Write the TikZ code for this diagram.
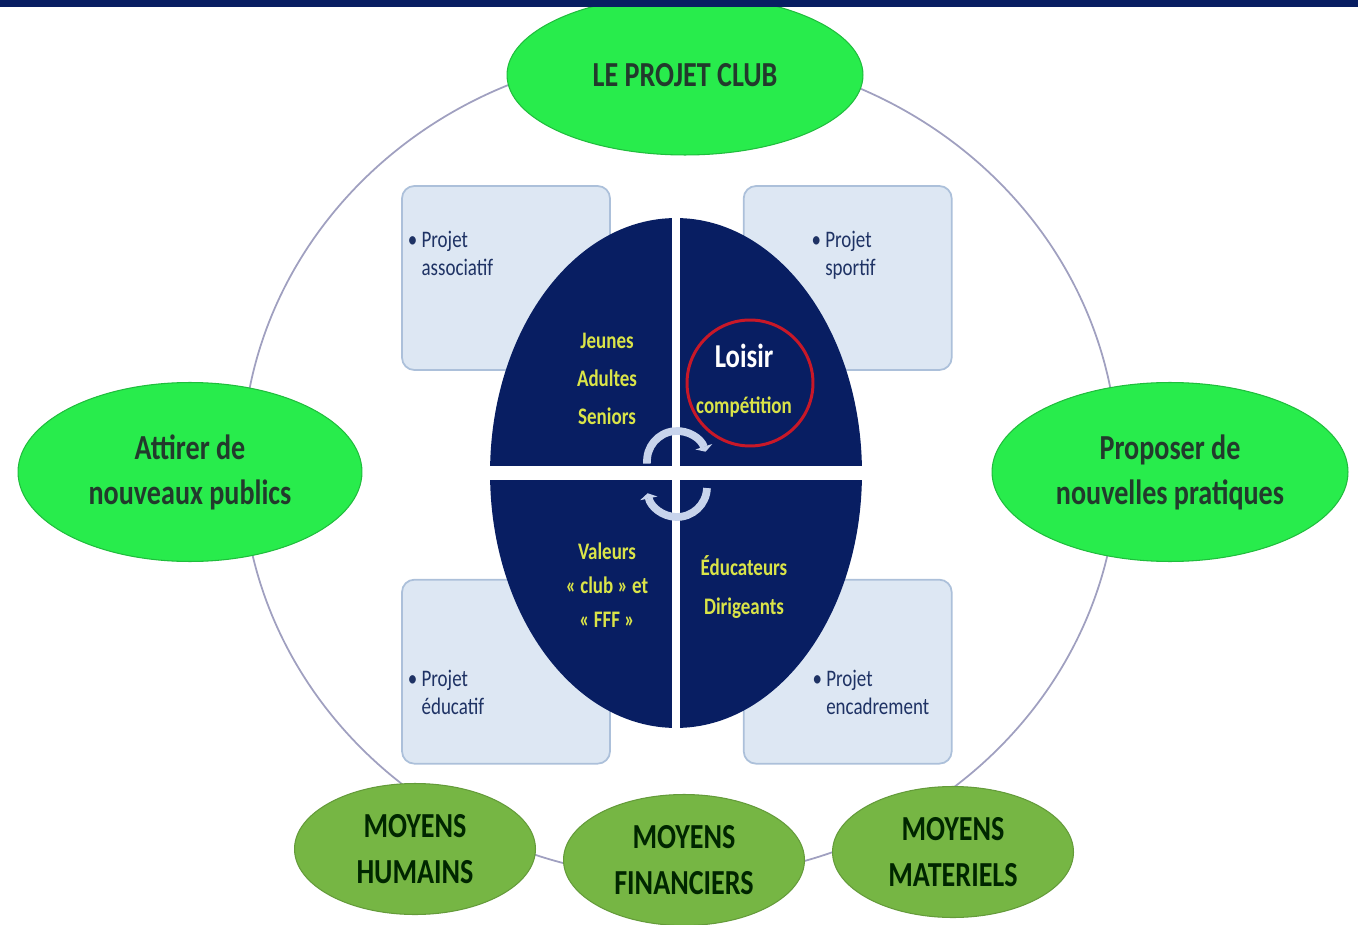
\documentclass[tikz,border=0pt]{standalone}
\usepackage{fontspec}
\setmainfont{Carlito}[FakeStretch=0.8]
\usetikzlibrary{arrows.meta, shapes.geometric, positioning}
\definecolor{navy}{RGB}{8,30,98}
\definecolor{brightgreen}{RGB}{40,236,76}
\definecolor{olivegreen}{RGB}{118,182,68}
\definecolor{boxfill}{RGB}{221,231,243}
\definecolor{boxline}{RGB}{172,192,218}
\definecolor{boxtext}{RGB}{30,50,100}
\definecolor{quadtext}{RGB}{218,228,72}
\definecolor{ringline}{RGB}{160,160,192}
\definecolor{arrowblue}{RGB}{200,212,236}
\definecolor{greentext}{RGB}{34,58,44}
\definecolor{loisirred}{RGB}{200,24,40}

\begin{document}
\begin{tikzpicture}[x=0.02cm, y=-0.02cm, thick,
  goal node/.style={ellipse, fill=brightgreen, draw=brightgreen!80!black, line width=0.6pt,
  text=greentext, font=\fontsize{20}{25.6}\selectfont\bfseries, align=center, inner sep=0pt},
  means node/.style={ellipse, fill=olivegreen, draw=olivegreen!85!black, line width=0.6pt,
  text=black!85!green, font=\fontsize{20}{26}\selectfont\bfseries, align=center, inner sep=0pt,
  minimum width=4.82cm, minimum height=2.62cm},
  proj box/.style={rectangle, rounded corners=7pt, fill=boxfill, draw=boxline, line width=1pt,
  minimum width=4.16cm, minimum height=3.68cm},
  proj text/.style={text=boxtext, font=\fontsize{13.5}{16}\selectfont, align=left, inner sep=0pt},
  quad text/.style={text=quadtext, font=\fontsize{13.5}{21.6}\selectfont\bfseries, align=center, inner sep=0pt},
  cycle arrow/.style={arrowblue, line width=4.4pt, -{Triangle[length=3pt, width=10pt]}}]
  \useasboundingbox (0,0) rectangle (1358,925);

  % ring behind everything
  \node[ellipse, draw=ringline, line width=1pt, minimum width=17.52cm, minimum height=16.52cm] (ring) at (680,465) {};

  \node[proj box] (tlbox) at (506,278) {};
  \node[proj box] (trbox) [right=2.64cm of tlbox] {};
  \node[proj box] (blbox) [below=4.16cm of tlbox] {};
  \node[proj box] (brbox) [right=2.64cm of blbox] {};
  \node[proj text] (tltext) [below right=0.9cm and 0.12cm of tlbox.north west] {• Projet\\\phantom{• }associatif};
  \node[proj text] (trtext) [below right=0.9cm and 1.36cm of trbox.north west] {• Projet\\\phantom{• }sportif};
  \node[proj text] (bltext) [below right=1.82cm and 0.12cm of blbox.north west] {• Projet\\\phantom{• }éducatif};
  \node[proj text] (brtext) [below right=1.82cm and 1.38cm of brbox.north west] {• Projet\\\phantom{• }encadrement};

  \node[ellipse, fill=navy, inner sep=0pt, minimum width=7.44cm, minimum height=10.2cm] (core) at (676,473) {};
  \draw[white, line width=4.6pt, shorten <=-2pt, shorten >=-2pt] (core.north) -- (core.south);
  \draw[white, line width=7.4pt, shorten <=-2pt, shorten >=-2pt] (core.west) -- (core.east);

  \node[quad text] (publics) at (607,379) {Jeunes\\Adultes\\Seniors};
  \node[text=white, font=\fontsize{19}{22}\selectfont\bfseries, inner sep=0pt] (loisir) at (744,356) {Loisir};
  \node[quad text] (compet) at (744,407) {compétition};
  \node[circle, draw=loisirred, line width=1.7pt, minimum size=2.52cm] (focus) at (750,383) {};
  \node[quad text, font=\fontsize{13.5}{19.4}\selectfont\bfseries] (valeurs) at (607,585) {Valeurs\\« club » et\\« FFF »};
  \node[quad text, font=\fontsize{13.5}{22}\selectfont\bfseries] (staff) at (744,587) {Éducateurs\\Dirigeants};

  \coordinate (hubtop) at (677,461);
  \coordinate (hubbot) at (677,487);
  \draw[cycle arrow] ([shift={(185:0.6cm)}]hubtop) arc[start angle=185, end angle=18, radius=0.6cm];
  \draw[cycle arrow] ([shift={(-2:0.6cm)}]hubbot) arc[start angle=-2, end angle=-168, radius=0.6cm];

  \node[goal node, minimum width=7.12cm, minimum height=3.2cm] (club) at (685,75) {LE PROJET CLUB};
  \node[goal node, minimum width=6.88cm, minimum height=3.58cm] (attirer) at (190,472) {Attirer de\\nouveaux publics};
  \node[goal node, minimum width=7.12cm, minimum height=3.58cm] (proposer) at (1170,472) {Proposer de\\nouvelles pratiques};

  \node[means node] (humains) at (415,849) {MOYENS\\HUMAINS};
  \node[means node] (financiers) [right=0.54cm of humains, yshift=-0.22cm] {MOYENS\\FINANCIERS};
  \node[means node] (materiels) [right=0.54cm of financiers, yshift=0.16cm] {MOYENS\\MATERIELS};

  \fill[navy] (0,0) rectangle (1358,7);
\end{tikzpicture}
\end{document}
